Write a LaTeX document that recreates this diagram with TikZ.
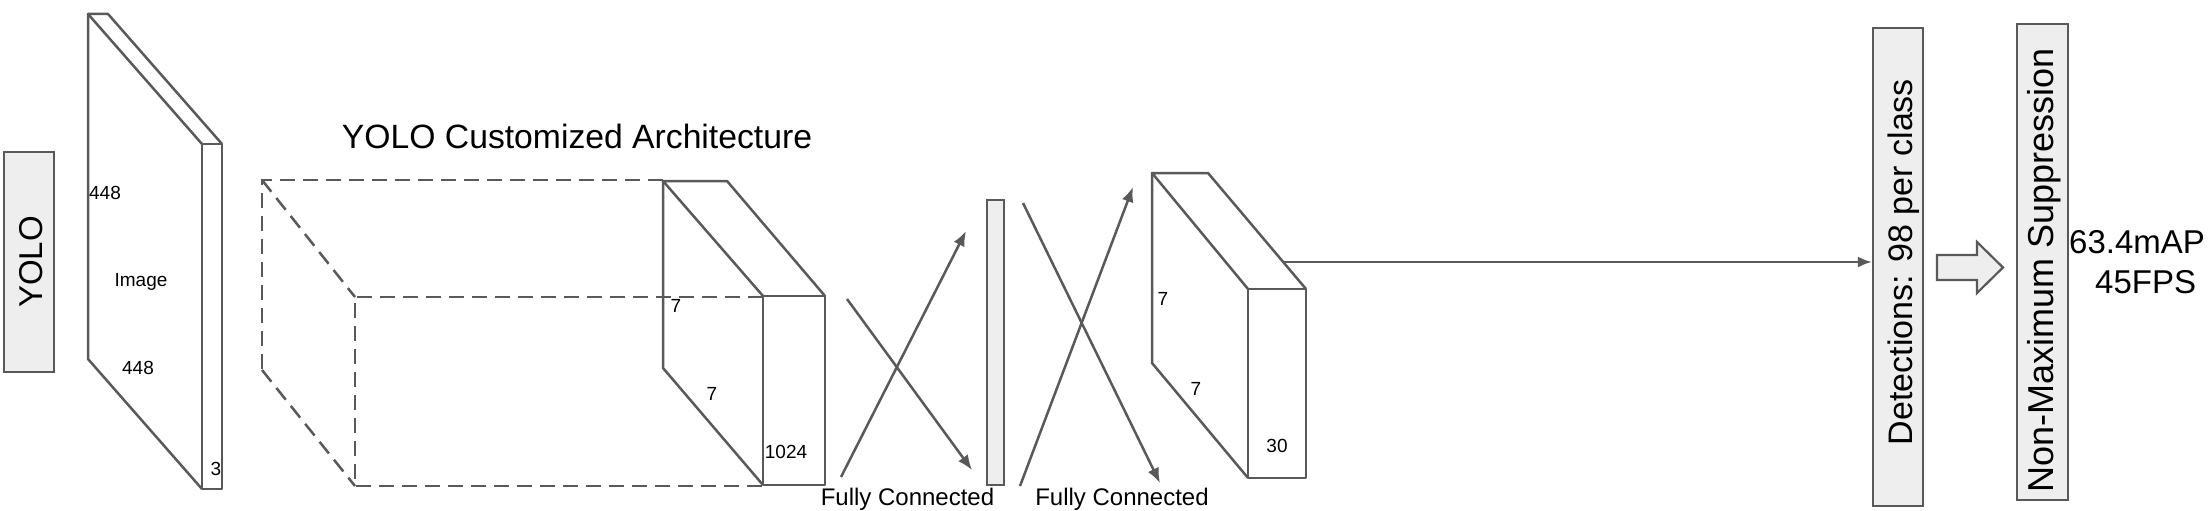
\documentclass[tikz,border=0pt]{standalone}
\usepackage{fontspec}
\setmainfont{Liberation Sans}
\usetikzlibrary{arrows.meta}
\definecolor{lnc}{HTML}{595959}
\definecolor{bxc}{HTML}{EEEEEE}
\begin{document}
\begin{tikzpicture}[x=1pt,y=-1pt,
  ln/.style={draw=lnc, line width=2.5pt, line join=round},
  dsh/.style={draw=lnc, line width=2.5pt, dash pattern=on 15pt off 8pt},
  arr/.style={draw=lnc, line width=2.5pt, -{Latex[length=15pt,width=12pt]}},
  box/.style={draw=lnc, fill=bxc, line width=2.2pt, inner sep=0pt},
  small/.style={font=\fontsize{19}{22}\selectfont, inner sep=0pt, anchor=base},
  fc/.style={font=\fontsize{24}{28}\selectfont, inner sep=0pt, anchor=base},
  big/.style={font=\fontsize{33}{38}\selectfont, inner sep=0pt, anchor=base},
  rot/.style={inner sep=0pt, anchor=base, rotate=90}]
\useasboundingbox (0,0) rectangle (2210,511);

% YOLO box
\node[box, minimum width=50pt, minimum height=220pt] (yolo) at (29,262) {};
\node[rot, font=\fontsize{33}{38}\selectfont] (yolot) at (42,262) {YOLO};

% Image slab
\coordinate (a1) at (88,14);
\coordinate (a2) at (108,14);
\coordinate (a3) at (222,144);
\coordinate (a4) at (202,144);
\coordinate (a5) at (202,489);
\coordinate (a6) at (222,489);
\coordinate (a7) at (88,359);
\draw[ln] (a4) -- (a1) -- (a2) -- (a3);
\draw[ln] (a1) -- (a7) -- (a5);
\draw[ln] (a4) rectangle (a6);
\node[small] (i448a) at (105,199) {448};
\node[small] (iimg) at (141,286) {Image};
\node[small] (i448b) at (138,374) {448};
\node[small] (i3) at (216,475) {3};

% Title
\node[font=\fontsize{33.7}{38}\selectfont, inner sep=0pt, anchor=base] (title) at (577,148) {YOLO Customized Architecture};

% Dashed box
\coordinate (d1) at (262,180);
\coordinate (d2) at (355,297);
\coordinate (d3) at (262,370);
\coordinate (d4) at (355,486);
\coordinate (d5) at (663,180);
\coordinate (d6) at (763,297);
\coordinate (d7) at (763,486);
\draw[dsh] (d5) -- (d1) -- (d3);
\draw[dsh] (d1) -- (d2);
\draw[dsh] (d3) -- (d4);
\draw[dsh] (d6) -- (d2) -- (d4) -- (d7);

% Slab 1024
\coordinate (b1) at (663,181);
\coordinate (b2) at (727,181);
\coordinate (b3) at (825,296);
\coordinate (b4) at (763,296);
\coordinate (b5) at (763,485);
\coordinate (b6) at (825,485);
\coordinate (b7) at (663,368);
\draw[ln] (b4) -- (b1) -- (b2) -- (b3);
\draw[ln] (b1) -- (b7) -- (b5);
\draw[ln] (b4) rectangle (b6);
\node[small] (b7a) at (676,312) {7};
\node[small] (b7b) at (712,400) {7};
\node[small] (b1024) at (786,458) {1024};

% FC arrows 1
\coordinate (f1s) at (841,477);
\coordinate (f1e) at (966,231);
\coordinate (f2s) at (847,299);
\coordinate (f2e) at (972,470);
\draw[arr] (f1s) -- (f1e);
\draw[arr] (f2s) -- (f2e);
\node[box, minimum width=17pt, minimum height=285pt] (bar) at (995.5,342.5) {};
\node[fc] (fc1) at (907.5,505) {Fully Connected};

% FC arrows 2
\coordinate (f3s) at (1020,486);
\coordinate (f3e) at (1133,187);
\coordinate (f4s) at (1023,203);
\coordinate (f4e) at (1160,483);
\draw[arr] (f3s) -- (f3e);
\draw[arr] (f4s) -- (f4e);
\node[fc] (fc2) at (1122,505) {Fully Connected};

% Slab 30
\coordinate (c1) at (1152,173);
\coordinate (c2) at (1208,173);
\coordinate (c3) at (1306,289);
\coordinate (c4) at (1248,289);
\coordinate (c5) at (1248,478);
\coordinate (c6) at (1306,478);
\coordinate (c7) at (1152,363);
\draw[ln] (c4) -- (c1) -- (c2) -- (c3);
\draw[ln] (c1) -- (c7) -- (c5);
\draw[ln] (c4) rectangle (c6);
\node[small] (c7a) at (1163,305) {7};
\node[small] (c7b) at (1196,395) {7};
\node[small] (c30) at (1277,452) {30};

% Detections
\node[box, minimum width=50pt, minimum height=478pt] (det) at (1898,267) {};
\node[rot, font=\fontsize{34}{38}\selectfont] (dett) at (1912,262) {Detections: 98 per class};
\coordinate (h0) at (1283,262);
\draw[draw=lnc, line width=2.5pt, -{Latex[length=14pt,width=11pt]}] (h0) -- (h0 -| det.west);

% Block arrow
\draw[draw=lnc, fill=bxc, line width=2.2pt, line join=miter]
  (1937,255) -- (1977,255) -- (1977,242) -- (2003,267.5) -- (1977,293) -- (1977,280) -- (1937,280) -- cycle;

% NMS
\node[box, minimum width=51pt, minimum height=476pt] (nms) at (2042.5,262) {};
\node[rot, font=\fontsize{36}{40}\selectfont] (nmst) at (2053,270) {Non-Maximum Suppression};

% Results
\node[big, anchor=base west] (map) at (2069,253) {63.4mAP};
\node[big, anchor=base west] (fps) at (2095,293) {45FPS};
\end{tikzpicture}
\end{document}
